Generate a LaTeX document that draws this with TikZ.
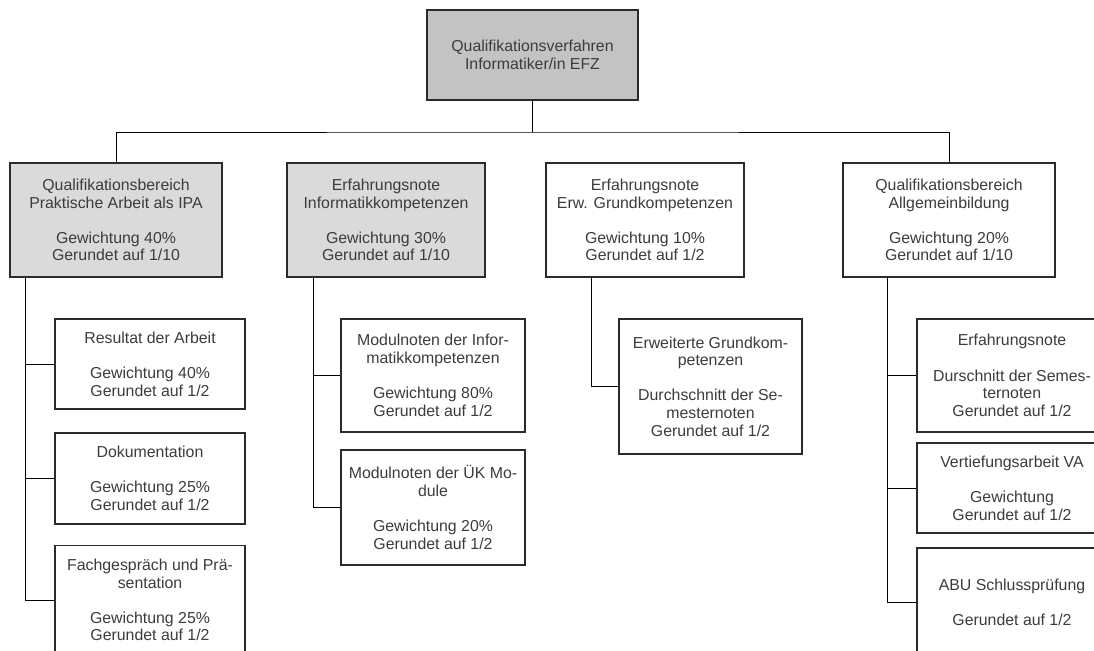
\documentclass[tikz,border=0pt]{standalone}
\usepackage{fontspec}
\setmainfont{Liberation Sans}
\definecolor{rahmen}{HTML}{2B2B2B}
\definecolor{schrift}{HTML}{3C3C3C}
\definecolor{grau}{HTML}{C3C3C3}
\definecolor{hellgrau}{HTML}{DADADA}
\tikzset{
  kasten/.style 2 args={draw=rahmen,line width=.9pt,fill=white,text=schrift,
    align=center,inner sep=0pt,
    minimum width=#1*0.75pt,minimum height=#2*0.75pt,
    font=\fontsize{11.9}{13.2}\selectfont},
  linie/.style={line width=.7pt,black}
}
\begin{document}
\begin{tikzpicture}[x=0.75pt,y=-0.75pt]
\useasboundingbox (0,0) rectangle (1094,650) ;
\clip (0,0) rectangle (1094,650) ;
% Kopf des Organigramms
\node[kasten={211}{90},fill=grau] (verfahren) at (532.5,55)
  {Qualifikationsverfahren\\Informatiker/in EFZ} ;
\coordinate (bus) at (532.5,132) ;
% Vier Bereiche
\node[kasten={212}{114},fill=hellgrau] (ipa) at (116,220)
  {Qualifikationsbereich\\Praktische Arbeit als IPA\\[13.2pt]Gewichtung 40\%\\Gerundet auf 1/10} ;
\node[kasten={198}{114},fill=hellgrau] (inf) at (386,220)
  {Erfahrungsnote\\Informatikkompetenzen\\[13.2pt]Gewichtung 30\%\\Gerundet auf 1/10} ;
\node[kasten={198}{114}] (erw) at (645,220)
  {Erfahrungsnote\\Erw. Grundkompetenzen\\[13.2pt]Gewichtung 10\%\\Gerundet auf 1/2} ;
\node[kasten={212}{114}] (abu) at (949,220)
  {Qualifikationsbereich\\Allgemeinbildung\\[13.2pt]Gewichtung 20\%\\Gerundet auf 1/10} ;
\draw[linie] (verfahren.south) -- (bus) ;
\draw[linie] (ipa.north) |- (bus) -| (abu.north) ;
% Teilnoten IPA
\node[kasten={190}{90}] (ipa1) at (150,364)
  {Resultat der Arbeit\\[13.2pt]Gewichtung 40\%\\Gerundet auf 1/2} ;
\node[kasten={190}{91}] (ipa2) at (150,478.5)
  {Dokumentation\\[13.2pt]Gewichtung 25\%\\Gerundet auf 1/2} ;
\node[kasten={190}{109}] (ipa3) at (150,600)
  {Fachgespräch und Prä-\\sentation\\[13.2pt]Gewichtung 25\%\\Gerundet auf 1/2} ;
% Teilnoten Informatikkompetenzen
\node[kasten={184}{113}] (inf1) at (433,375.5)
  {Modulnoten der Infor-\\matikkompetenzen\\[13.2pt]Gewichtung 80\%\\Gerundet auf 1/2} ;
\node[kasten={184}{115}] (inf2) at (433,507.5)
  {Modulnoten der ÜK Mo-\\dule\\[13.2pt]Gewichtung 20\%\\Gerundet auf 1/2} ;
% Erweiterte Grundkompetenzen
\node[kasten={183}{135}] (erw1) at (710.5,386.5)
  {Erweiterte Grundkom-\\petenzen\\[13.2pt]Durchschnitt der Se-\\mesternoten\\Gerundet auf 1/2} ;
% Allgemeinbildung
\node[kasten={190}{113}] (abu1) at (1012,375.5)
  {Erfahrungsnote\\[13.2pt]Durschnitt der Semes-\\ternoten\\Gerundet auf 1/2} ;
\node[kasten={190}{90}] (abu2) at (1012,488)
  {Vertiefungsarbeit VA\\[13.2pt]Gewichtung\\Gerundet auf 1/2} ;
\node[kasten={190}{108}] (abu3) at (1012,602)
  {ABU Schlussprüfung\\[13.2pt]Gerundet auf 1/2} ;
% Stammlinien mit Abzweigungen
\coordinate (s1) at (25,277) ;
\coordinate (s2) at (313,277) ;
\coordinate (s3) at (591,277) ;
\coordinate (s4) at (887,277) ;
\foreach \s/\k in {s1/ipa1,s1/ipa2,s1/ipa3,s2/inf1,s2/inf2,s3/erw1,s4/abu1,s4/abu2,s4/abu3}
{
  \draw[linie] (\s) |- (\k.west) ;
}
\end{tikzpicture}
\end{document}
